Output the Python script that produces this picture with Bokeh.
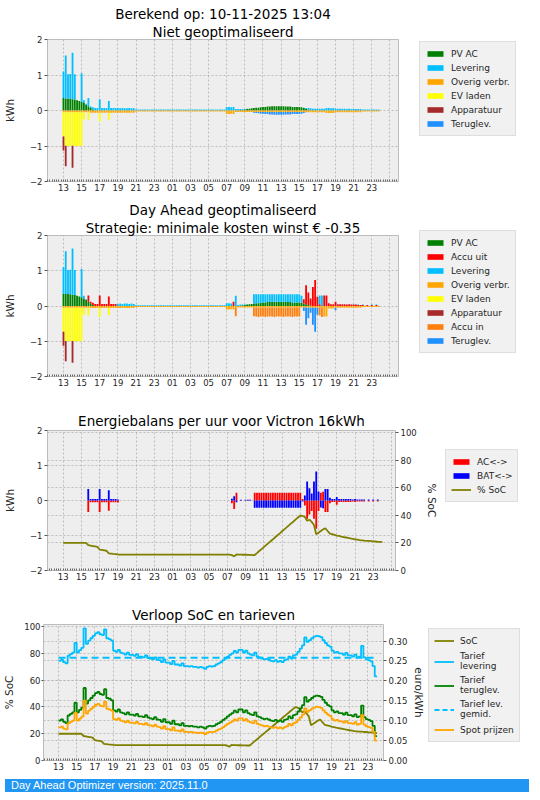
import numpy as np
from bokeh.plotting import figure
from bokeh.models import (ColumnDataSource, Range1d, LinearAxis, FixedTicker, Legend, LegendItem,
                          Title, Grid, Div, PrintfTickFormatter, Spacer)
from bokeh.layouts import column, row
from bokeh.embed import file_html
from bokeh.resources import INLINE

# ---------------- data (quarter-hour slots, 13:00 today .. 23:45 tomorrow) ----------------
N_Q = 140
quarter_x = 13 + 0.25 * np.arange(N_Q)
soc_x = 13 + 0.25 * np.arange(N_Q + 1)

tick_hours = list(range(13, 50, 2))
tick_labels = ["13", "15", "17", "19", "21", "23", "01", "03", "05", "07", "09", "11",
               "13", "15", "17", "19", "21", "23", ""]

pv_ac = {0: 0.35, 1: 0.34, 2: 0.34, 3: 0.33, 4: 0.32, 5: 0.31, 6: 0.29, 7: 0.27, 8: 0.25, 9: 0.21,
         10: 0.17, 11: 0.12, 12: 0.07, 13: 0.03,
         78: 0.01, 79: 0.02, 80: 0.03, 81: 0.04, 82: 0.05, 83: 0.06, 84: 0.07, 85: 0.08, 86: 0.08,
         87: 0.09, 88: 0.10, 89: 0.10, 90: 0.11, 91: 0.11, 92: 0.12, 93: 0.12, 94: 0.12, 95: 0.12,
         96: 0.12, 97: 0.12, 98: 0.11, 99: 0.11, 100: 0.11, 101: 0.10, 102: 0.10, 103: 0.10,
         104: 0.10, 105: 0.09, 106: 0.07, 107: 0.05, 108: 0.03, 109: 0.01}

levering_p1 = [
    0.75, 1.21, 0.68, 0.70,  1.31, 0.71, 0.00, 0.00,  0.80, 0.08, 0.02, 0.23,
    0.04, 0.06, 0.07, 0.07,  0.32, 0.07, 0.07, 0.07,  0.27, 0.07, 0.07, 0.07,
    0.07, 0.06, 0.07, 0.06,  0.06, 0.07, 0.06, 0.06,  0.03, 0.03, 0.03, 0.03,
    0.03, 0.03, 0.03, 0.03,  0.03, 0.03, 0.03, 0.03,  0.03, 0.03, 0.03, 0.03,
    0.03, 0.03, 0.03, 0.03,  0.03, 0.03, 0.03, 0.03,  0.03, 0.03, 0.03, 0.03,
    0.03, 0.03, 0.03, 0.03,  0.03, 0.03, 0.03, 0.03,  0.03, 0.03, 0.03, 0.03,
    0.10, 0.10, 0.09, 0.10,  0.04, 0.04, 0.03, 0.02,  0.01, 0.01, 0.00, 0.00,
    0.00, 0.00, 0.00, 0.00,  0.00, 0.00, 0.00, 0.00,  0.00, 0.00, 0.00, 0.00,
    0.00, 0.00, 0.00, 0.00,  0.00, 0.00, 0.00, 0.00,  0.00, 0.00, 0.01, 0.02,
    0.04, 0.05, 0.05, 0.05,  0.05, 0.05, 0.05, 0.05,  0.07, 0.07, 0.06, 0.07,
    0.05, 0.05, 0.05, 0.05,  0.05, 0.04, 0.05, 0.04,  0.04, 0.04, 0.04, 0.04,
    0.03, 0.03, 0.03, 0.03,  0.03, 0.03, 0.03, 0.03]

overig_p1 = [
    -0.05, -0.05, -0.05, -0.05,  -0.05, -0.05, -0.05, -0.05,  -0.05, -0.05, -0.05, -0.05,
    -0.06, -0.06, -0.06, -0.06,  -0.06, -0.06, -0.06, -0.06,  -0.06, -0.06, -0.06, -0.06,
    -0.06, -0.06, -0.06, -0.06,  -0.06, -0.06, -0.06, -0.06,  -0.03, -0.03, -0.03, -0.03,
    -0.03, -0.03, -0.03, -0.03,  -0.03, -0.03, -0.03, -0.03,  -0.03, -0.03, -0.03, -0.03,
    -0.03, -0.03, -0.03, -0.03,  -0.03, -0.03, -0.03, -0.03,  -0.03, -0.03, -0.03, -0.03,
    -0.03, -0.03, -0.03, -0.03,  -0.03, -0.03, -0.03, -0.03,  -0.03, -0.03, -0.03, -0.03,
    -0.10, -0.10, -0.09, -0.10,  -0.04, -0.04, -0.04, -0.04,  -0.04, -0.04, -0.04, -0.04,
    -0.04, -0.04, -0.04, -0.04,  -0.04, -0.04, -0.04, -0.04,  -0.04, -0.04, -0.04, -0.04,
    -0.04, -0.04, -0.04, -0.04,  -0.04, -0.04, -0.04, -0.04,  -0.04, -0.04, -0.04, -0.04,
    -0.05, -0.05, -0.05, -0.05,  -0.05, -0.05, -0.05, -0.05,  -0.07, -0.07, -0.07, -0.07,
    -0.05, -0.05, -0.05, -0.05,  -0.05, -0.05, -0.05, -0.05,  -0.05, -0.05, -0.05, -0.05,
    -0.03, -0.03, -0.03, -0.03,  -0.03, -0.03, -0.03, -0.03]

ev_laden = {0: -0.68, 1: -0.94, 2: -0.95, 3: -0.95, 4: -0.94, 5: -0.95, 6: -0.95, 7: -0.95,
            8: -0.95, 9: -0.20, 11: -0.22, 16: -0.25, 20: -0.20}
apparatuur = {0: -0.40, 1: -0.58, 4: -0.62}
teruglev_p1 = {84: -0.02, 85: -0.03, 86: -0.04, 87: -0.05, 88: -0.05, 89: -0.06, 90: -0.06,
               91: -0.07, 92: -0.07, 93: -0.08, 94: -0.08, 95: -0.08, 96: -0.08, 97: -0.08,
               98: -0.07, 99: -0.07, 100: -0.07, 101: -0.06, 102: -0.06, 103: -0.06, 104: -0.06,
               105: -0.05, 106: -0.03, 107: -0.01}

levering_p2 = [
    0.75, 1.21, 0.68, 0.70,  1.31, 0.71, 0.00, 0.00,  0.80, 0.08, 0.02, 0.00,
    0.00, 0.00, 0.00, 0.00,  0.00, 0.00, 0.00, 0.00,  0.00, 0.00, 0.00, 0.00,
    0.06, 0.07, 0.06, 0.07,  0.07, 0.06, 0.07, 0.06,  0.02, 0.02, 0.02, 0.02,
    0.02, 0.02, 0.02, 0.02,  0.02, 0.02, 0.02, 0.02,  0.02, 0.02, 0.02, 0.02,
    0.02, 0.02, 0.02, 0.02,  0.02, 0.02, 0.02, 0.02,  0.02, 0.02, 0.02, 0.02,
    0.02, 0.02, 0.02, 0.02,  0.02, 0.02, 0.02, 0.02,  0.02, 0.02, 0.02, 0.02,
    0.08, 0.08, 0.07, 0.00,  0.29, 0.03, 0.03, 0.02,  0.01, 0.01, 0.00, 0.00,
    0.26, 0.25, 0.25, 0.24,  0.23, 0.23, 0.22, 0.22,  0.21, 0.21, 0.21, 0.21,
    0.21, 0.21, 0.22, 0.22,  0.22, 0.23, 0.23, 0.23,  0.23, 0.20, 0.00, 0.00,
    0.00, 0.00, 0.00, 0.00,  0.00, 0.25, 0.30, 0.00,  0.00, 0.00, 0.01, 0.00,
    0.00, 0.01, 0.00, 0.01,  0.00, 0.01, 0.00, 0.01,  0.01, 0.00, 0.01, 0.00,
    0.01, 0.01, 0.00, 0.01,  0.01, 0.00, 0.01, 0.01]

overig_p2 = [
    -0.05, -0.05, -0.05, -0.05,  -0.05, -0.05, -0.05, -0.05,  -0.05, -0.05, -0.05, -0.05,
    -0.06, -0.06, -0.06, -0.06,  -0.06, -0.06, -0.06, -0.06,  -0.06, -0.06, -0.06, -0.06,
    -0.06, -0.06, -0.06, -0.06,  -0.06, -0.06, -0.06, -0.06,  -0.03, -0.03, -0.03, -0.03,
    -0.03, -0.03, -0.03, -0.03,  -0.03, -0.03, -0.03, -0.03,  -0.03, -0.03, -0.03, -0.03,
    -0.03, -0.03, -0.03, -0.03,  -0.03, -0.03, -0.03, -0.03,  -0.03, -0.03, -0.03, -0.03,
    -0.03, -0.03, -0.03, -0.03,  -0.03, -0.03, -0.03, -0.03,  -0.03, -0.03, -0.03, -0.03,
    -0.10, -0.10, -0.09, -0.10,  -0.04, -0.04, -0.04, -0.04,  -0.04, -0.04, -0.04, -0.04,
    -0.04, -0.04, -0.04, -0.04,  -0.04, -0.04, -0.04, -0.04,  -0.04, -0.04, -0.04, -0.04,
    -0.04, -0.04, -0.04, -0.04,  -0.04, -0.04, -0.04, -0.04,  -0.04, -0.04, -0.04, -0.04,
    -0.05, -0.05, -0.05, -0.05,  -0.05, -0.05, -0.05, -0.30,  -0.30, -0.07, -0.07, -0.07,
    -0.05, -0.05, -0.05, -0.05,  -0.05, -0.05, -0.05, -0.05,  -0.05, -0.05, -0.05, -0.05,
    -0.03, -0.03, -0.03, -0.03,  -0.03, -0.03, -0.03, -0.03]

accu_uit_p2 = {11: 0.18, 12: 0.05, 13: 0.06, 14: 0.06, 15: 0.06, 16: 0.30, 17: 0.06, 18: 0.06,
               19: 0.06, 20: 0.27, 21: 0.06, 22: 0.06, 23: 0.06, 75: 0.12,
               106: 0.12, 107: 0.54, 108: 0.35, 109: 0.20, 110: 0.54, 111: 0.74, 112: 0.26,
               113: 0.05, 115: 0.30, 116: 0.30, 117: 0.08, 118: 0.05, 119: 0.05, 120: 0.12,
               121: 0.05, 122: 0.05, 123: 0.05, 124: 0.05, 125: 0.04, 126: 0.05, 127: 0.04,
               128: 0.04, 129: 0.04, 130: 0.03, 131: 0.03, 132: 0.03, 134: 0.03, 136: 0.03,
               138: 0.03}
accu_in_p2 = {76: -0.25, 84: -0.25, 85: -0.26, 86: -0.27, 87: -0.26, 88: -0.26, 89: -0.27,
              90: -0.26, 91: -0.26, 92: -0.26, 93: -0.27, 94: -0.26, 95: -0.26, 96: -0.26,
              97: -0.27, 98: -0.26, 99: -0.26, 100: -0.26, 101: -0.27, 102: -0.26, 103: -0.26,
              104: -0.26, 113: -0.22, 114: -0.26}
teruglev_p2 = {106: -0.10, 107: -0.49, 108: -0.30, 109: -0.14, 110: -0.48, 111: -0.68,
               112: -0.20, 120: -0.07}

ac_balans = {11: -0.33, 12: -0.05, 13: -0.05, 14: -0.05, 15: -0.05, 16: -0.33, 17: -0.05,
             18: -0.05, 19: -0.05, 20: -0.29, 21: -0.05, 22: -0.05, 23: -0.05, 24: -0.06,
             74: -0.08, 75: -0.24, 76: 0.22, 78: -0.01, 80: -0.01, 81: -0.01, 82: -0.01,
             84: 0.22, 85: 0.22, 86: 0.22, 87: 0.22, 88: 0.22, 89: 0.22, 90: 0.22, 91: 0.22,
             92: 0.22, 93: 0.22, 94: 0.22, 95: 0.22, 96: 0.22, 97: 0.22, 98: 0.22, 99: 0.22,
             100: 0.22, 101: 0.22, 102: 0.22, 103: 0.22, 104: 0.22, 105: 0.04,
             106: -0.14, 107: -0.52, 108: -0.40, 109: -0.30, 110: -0.52, 111: -0.81,
             112: -0.30, 113: 0.22, 114: 0.25, 115: -0.33, 116: -0.33, 117: -0.08,
             118: -0.04, 119: -0.04, 120: -0.12, 121: -0.04, 122: -0.04, 123: -0.04,
             124: -0.04, 125: -0.04, 126: -0.04, 127: -0.03, 128: -0.04, 129: -0.03,
             130: -0.03, 131: -0.03, 132: -0.03, 134: -0.03, 136: -0.03, 138: -0.03}
bat_balans = {11: 0.33, 12: 0.04, 13: 0.04, 14: 0.04, 15: 0.04, 16: 0.33, 17: 0.04, 18: 0.04,
              19: 0.04, 20: 0.29, 21: 0.04, 22: 0.04, 23: 0.04, 24: 0.03,
              74: 0.05, 75: 0.12, 76: -0.05, 78: 0.02, 80: 0.02, 81: 0.02, 82: 0.02,
              84: -0.21, 85: -0.21, 86: -0.21, 87: -0.21, 88: -0.21, 89: -0.21, 90: -0.21,
              91: -0.21, 92: -0.21, 93: -0.21, 94: -0.21, 95: -0.21, 96: -0.21, 97: -0.21,
              98: -0.21, 99: -0.21, 100: -0.21, 101: -0.21, 102: -0.21, 103: -0.21,
              104: -0.21, 105: -0.03,
              106: 0.14, 107: 0.54, 108: 0.35, 109: 0.20, 110: 0.54, 111: 0.83, 112: 0.26,
              113: -0.20, 114: -0.22, 115: 0.33, 116: 0.33, 117: 0.08, 118: 0.04, 119: 0.04,
              120: 0.10, 121: 0.04, 122: 0.04, 123: 0.04, 124: 0.04, 125: 0.04, 126: 0.04,
              127: 0.03, 128: 0.04, 129: 0.03, 130: 0.03, 131: 0.03, 132: 0.03, 134: 0.03,
              136: 0.03, 138: 0.03}

soc = [
    20.0, 20.0, 20.0, 20.0,  20.0, 20.0, 20.0, 20.0,  20.0, 20.0, 20.0, 18.3,
    18.0, 17.7, 17.4, 17.1,  15.2, 14.9, 14.6, 14.3,  12.4, 12.2, 12.0, 11.9,
    11.6, 11.5, 11.5, 11.5,  11.5, 11.5, 11.5, 11.5,  11.5, 11.5, 11.5, 11.5,
    11.5, 11.5, 11.5, 11.5,  11.5, 11.5, 11.5, 11.5,  11.5, 11.5, 11.5, 11.5,
    11.5, 11.5, 11.5, 11.5,  11.5, 11.5, 11.5, 11.5,  11.5, 11.5, 11.5, 11.5,
    11.5, 11.5, 11.5, 11.5,  11.5, 11.5, 11.5, 11.5,  11.5, 11.5, 11.5, 11.5,
    11.5, 11.5, 11.2, 10.2,  11.6, 11.5, 11.5, 11.4,  11.4, 11.3, 11.3, 11.2,
    11.2, 12.6, 14.1, 15.5,  16.9, 18.4, 19.8, 21.2,  22.6, 24.1, 25.5, 26.9,
    28.4, 29.8, 31.2, 32.7,  34.1, 35.5, 37.0, 38.4,  39.8, 39.5, 38.8, 36.0,
    36.8, 35.2, 33.0, 26.3,  27.4, 28.6, 29.8, 30.6,  28.6, 26.7, 26.3, 25.8,
    25.3, 25.0, 24.5, 24.2,  23.9, 23.6, 23.2, 22.9,  22.6, 22.3, 22.0, 21.8,
    21.6, 21.5, 21.4, 21.3,  21.1, 21.0, 20.8, 20.7,  20.5]

spot_prijzen = [
    0.083, 0.085, 0.080, 0.078,  0.093, 0.097, 0.100, 0.120,  0.100, 0.105, 0.110, 0.150,
    0.118, 0.125, 0.130, 0.135,  0.140, 0.142, 0.138, 0.136,  0.148, 0.130, 0.128, 0.125,
    0.104, 0.102, 0.106, 0.100,  0.098, 0.096, 0.100, 0.095,  0.095, 0.093, 0.097, 0.092,
    0.092, 0.090, 0.094, 0.089,  0.088, 0.086, 0.090, 0.085,  0.084, 0.080, 0.086, 0.079,
    0.079, 0.076, 0.083, 0.075,  0.075, 0.073, 0.078, 0.072,  0.072, 0.071, 0.072, 0.070,
    0.070, 0.069, 0.070, 0.069,  0.066, 0.070, 0.072, 0.071,  0.072, 0.075, 0.078, 0.080,
    0.084, 0.088, 0.092, 0.095,  0.098, 0.103, 0.100, 0.106,  0.106, 0.100, 0.104, 0.098,
    0.096, 0.094, 0.100, 0.092,  0.090, 0.088, 0.086, 0.087,  0.085, 0.083, 0.082, 0.084,
    0.081, 0.083, 0.080, 0.084,  0.086, 0.092, 0.088, 0.094,  0.096, 0.102, 0.108, 0.115,
    0.131, 0.122, 0.126, 0.130,  0.133, 0.135, 0.134, 0.132,  0.126, 0.120, 0.115, 0.112,
    0.104, 0.100, 0.102, 0.098,  0.098, 0.095, 0.099, 0.094,  0.094, 0.092, 0.096, 0.090,
    0.092, 0.114, 0.090, 0.086,  0.084, 0.082, 0.072, 0.050]

tarief_teruglev = [
    0.100, 0.103, 0.097, 0.094,  0.113, 0.117, 0.121, 0.145,  0.121, 0.127, 0.133, 0.182,
    0.143, 0.151, 0.157, 0.163,  0.169, 0.172, 0.167, 0.165,  0.179, 0.157, 0.155, 0.151,
    0.126, 0.123, 0.128, 0.121,  0.119, 0.116, 0.121, 0.115,  0.115, 0.113, 0.117, 0.111,
    0.111, 0.109, 0.114, 0.108,  0.106, 0.104, 0.109, 0.103,  0.102, 0.097, 0.104, 0.096,
    0.096, 0.092, 0.100, 0.091,  0.091, 0.088, 0.094, 0.087,  0.087, 0.086, 0.087, 0.085,
    0.085, 0.083, 0.085, 0.083,  0.080, 0.085, 0.087, 0.086,  0.087, 0.091, 0.094, 0.097,
    0.102, 0.106, 0.111, 0.115,  0.119, 0.125, 0.121, 0.128,  0.128, 0.121, 0.126, 0.119,
    0.116, 0.114, 0.121, 0.111,  0.109, 0.106, 0.104, 0.105,  0.103, 0.100, 0.099, 0.102,
    0.098, 0.100, 0.097, 0.102,  0.104, 0.111, 0.106, 0.114,  0.116, 0.123, 0.131, 0.139,
    0.159, 0.148, 0.152, 0.157,  0.161, 0.163, 0.162, 0.160,  0.152, 0.145, 0.139, 0.136,
    0.126, 0.121, 0.123, 0.119,  0.119, 0.115, 0.120, 0.114,  0.114, 0.111, 0.116, 0.109,
    0.111, 0.138, 0.109, 0.104,  0.102, 0.099, 0.087, 0.061]

tarief_levering = [
    0.250, 0.253, 0.247, 0.244,  0.263, 0.267, 0.271, 0.295,  0.271, 0.277, 0.283, 0.332,
    0.293, 0.301, 0.307, 0.313,  0.319, 0.322, 0.317, 0.315,  0.329, 0.307, 0.305, 0.301,
    0.276, 0.273, 0.278, 0.271,  0.269, 0.266, 0.271, 0.265,  0.265, 0.263, 0.267, 0.261,
    0.261, 0.259, 0.264, 0.258,  0.256, 0.254, 0.259, 0.253,  0.252, 0.247, 0.254, 0.246,
    0.246, 0.242, 0.250, 0.241,  0.241, 0.238, 0.244, 0.237,  0.237, 0.236, 0.237, 0.235,
    0.235, 0.233, 0.235, 0.233,  0.230, 0.235, 0.237, 0.236,  0.237, 0.241, 0.244, 0.247,
    0.252, 0.256, 0.261, 0.265,  0.269, 0.275, 0.271, 0.278,  0.278, 0.271, 0.276, 0.269,
    0.266, 0.264, 0.271, 0.261,  0.259, 0.256, 0.254, 0.255,  0.253, 0.250, 0.249, 0.252,
    0.248, 0.250, 0.247, 0.252,  0.254, 0.261, 0.256, 0.264,  0.266, 0.273, 0.281, 0.289,
    0.309, 0.298, 0.302, 0.307,  0.311, 0.313, 0.312, 0.310,  0.302, 0.295, 0.289, 0.286,
    0.276, 0.271, 0.273, 0.269,  0.269, 0.265, 0.270, 0.264,  0.264, 0.261, 0.266, 0.259,
    0.261, 0.288, 0.259, 0.254,  0.252, 0.249, 0.237, 0.211]

tarief_gemid = 0.258
gemid_span = [13.0, 48.0]

# ---------------- helpers ----------------
FONT = "DejaVu Sans"
BG = "#eeeeee"
TXT = "#262626"
GRIDC = "#b0b0b0"
C_PV, C_UIT, C_LEV, C_OVR = "#008000", "#ff0000", "#00bfff", "#ffa500"
C_EV, C_APP, C_IN, C_TER = "#ffff00", "#a52a2a", "#ff7f0e", "#1e90ff"
C_SOC = "#808000"
BAR_W = 0.2


def dense(d):
    arr = np.zeros(N_Q)
    for k, v in d.items():
        arr[k] = v
    return arr


def style_axis(ax, label=None, standoff=7, tick_out=3):
    ax.axis_line_color = None
    ax.major_tick_line_color = "#555555"
    ax.major_tick_out = tick_out
    ax.major_tick_in = 0
    ax.minor_tick_line_color = None
    ax.major_label_text_font = FONT
    ax.major_label_text_font_size = "8.5px"
    ax.major_label_text_color = TXT
    ax.major_label_standoff = 2
    if label:
        ax.axis_label = label
        ax.axis_label_text_font = FONT
        ax.axis_label_text_font_size = "10.5px"
        ax.axis_label_text_font_style = "normal"
        ax.axis_label_text_color = TXT
        ax.axis_label_standoff = standoff


def style_grid(g):
    g.grid_line_color = GRIDC
    g.grid_line_dash = "2 2"
    g.grid_line_width = 0.8


def make_fig(frame_w, frame_h, left, top, bottom, xr, yr, total_w=524):
    p = figure(frame_width=frame_w, frame_height=frame_h, min_border_left=left,
               min_border_right=total_w - left - frame_w, min_border_top=top,
               min_border_bottom=bottom, x_range=Range1d(*xr), y_range=Range1d(*yr),
               toolbar_location=None, tools="", output_backend="svg", title=None,
               background_fill_color=BG, border_fill_color="white")
    p.outline_line_color = "#bcbcbc"
    xt = FixedTicker(ticks=tick_hours, minor_ticks=list(np.arange(11.25, 50.01, 0.25)))
    p.xaxis.ticker = xt
    p.xaxis.major_label_overrides = {h: lab for h, lab in zip(tick_hours, tick_labels)}
    style_axis(p.xaxis[0], tick_out=0)
    p.xaxis.minor_tick_line_color = "#666666"
    p.xaxis.minor_tick_in = 2
    p.xaxis.minor_tick_out = 0
    p.xgrid.ticker = xt
    style_grid(p.xgrid[0])
    style_grid(p.ygrid[0])
    return p


def add_titles(p, lines, standoff=0):
    for i, t in enumerate(reversed(lines)):
        p.add_layout(Title(text=t, align="center", text_font=FONT, text_font_size="13.5px",
                           text_font_style="normal", text_color="black",
                           standoff=standoff if i == 0 else 0), "above")


def make_legend(items, loc, margin=0, spacing=1):
    return Legend(items=items, location=loc, label_text_font=FONT, label_text_font_size="9px",
                  label_text_color=TXT, label_height=13, glyph_height=7, glyph_width=20,
                  spacing=spacing, padding=5, label_standoff=6, margin=margin,
                  background_fill_color="#f1f1f1", background_fill_alpha=1.0,
                  border_line_color="#cccccc", border_line_width=1)


def legend_figure(width, height):
    """Axis-less figure whose visible ranges hold no data: it only shows a legend."""
    lf = figure(width=width, height=height, x_range=Range1d(0, 1), y_range=Range1d(0, 1),
                toolbar_location=None, tools="", output_backend="svg", title=None,
                x_axis_location=None, y_axis_location=None, min_border=0,
                background_fill_color="white", border_fill_color="white")
    lf.outline_line_color = None
    lf.grid.visible = False
    return lf


def kwh_axes(p):
    p.yaxis.ticker = FixedTicker(ticks=[-2, -1, 0, 1, 2])
    p.yaxis.major_label_overrides = {-2: "\u22122", -1: "\u22121"}
    style_axis(p.yaxis[0], label="kWh", standoff=11)
    p.ygrid.ticker = FixedTicker(ticks=[-2, -1, 0, 1, 2])


# ---------------- panel 1: niet geoptimaliseerd ----------------
p1 = make_fig(351, 142, 38, 39, 18, (11.24, 49.94), (-2, 2))
add_titles(p1, ["Berekend op: 10-11-2025 13:04", "Niet geoptimaliseerd"])
kwh_axes(p1)
src1 = ColumnDataSource(dict(x=quarter_x, pv=dense(pv_ac), lev=np.array(levering_p1),
                             ovr=np.array(overig_p1), ev=dense(ev_laden), app=dense(apparatuur),
                             ter=dense(teruglev_p1)))
r1p = p1.vbar_stack(["pv", "lev"], x="x", width=BAR_W, fill_color=[C_PV, C_LEV],
                    line_color=None, source=src1)
r1n = p1.vbar_stack(["ovr", "ev", "app", "ter"], x="x", width=BAR_W,
                    fill_color=[C_OVR, C_EV, C_APP, C_TER], line_color=None, source=src1)
p1.add_layout(make_legend([LegendItem(label="PV AC", renderers=[r1p[0]]),
                           LegendItem(label="Levering", renderers=[r1p[1]]),
                           LegendItem(label="Overig verbr.", renderers=[r1n[0]]),
                           LegendItem(label="EV laden", renderers=[r1n[1]]),
                           LegendItem(label="Apparatuur", renderers=[r1n[2]]),
                           LegendItem(label="Teruglev.", renderers=[r1n[3]])],
                          (21, 45), margin=16), "right")

# ---------------- panel 2: day ahead geoptimaliseerd ----------------
p2 = make_fig(351, 141, 38, 33, 21, (11.24, 49.94), (-2, 2))
add_titles(p2, ["Day Ahead geoptimaliseerd", "Strategie: minimale kosten winst \u20ac -0.35"])
kwh_axes(p2)
src2 = ColumnDataSource(dict(x=quarter_x, pv=dense(pv_ac), uit=dense(accu_uit_p2),
                             lev=np.array(levering_p2), ovr=np.array(overig_p2),
                             ev=dense(ev_laden), app=dense(apparatuur), inn=dense(accu_in_p2),
                             ter=dense(teruglev_p2)))
r2p = p2.vbar_stack(["pv", "uit", "lev"], x="x", width=BAR_W,
                    fill_color=[C_PV, C_UIT, C_LEV], line_color=None, source=src2)
r2n = p2.vbar_stack(["ovr", "ev", "app", "inn", "ter"], x="x", width=BAR_W,
                    fill_color=[C_OVR, C_EV, C_APP, C_IN, C_TER], line_color=None, source=src2)
p2.add_layout(make_legend([LegendItem(label="PV AC", renderers=[r2p[0]]),
                           LegendItem(label="Accu uit", renderers=[r2p[1]]),
                           LegendItem(label="Levering", renderers=[r2p[2]]),
                           LegendItem(label="Overig verbr.", renderers=[r2n[0]]),
                           LegendItem(label="EV laden", renderers=[r2n[1]]),
                           LegendItem(label="Apparatuur", renderers=[r2n[2]]),
                           LegendItem(label="Accu in", renderers=[r2n[3]]),
                           LegendItem(label="Teruglev.", renderers=[r2n[4]])],
                          (21, 23), margin=16), "right")

# ---------------- panel 3: energiebalans ----------------
p3 = make_fig(348, 140, 38, 33, 22, (11.28, 49.44), (-2, 2), total_w=436)
add_titles(p3, ["Energiebalans per uur voor Victron 16kWh"], standoff=3)
kwh_axes(p3)
p3.extra_y_ranges = {"soc": Range1d(0, 101.4)}
ax3r = LinearAxis(y_range_name="soc", ticker=FixedTicker(ticks=[0, 20, 40, 60, 80, 100]))
style_axis(ax3r, label="% SoC", standoff=6)
p3.add_layout(ax3r, "right")
g3 = Grid(dimension=1, ticker=FixedTicker(ticks=[20, 40, 60, 80, 100]), y_range_name="soc")
style_grid(g3)
p3.add_layout(g3)
src3 = ColumnDataSource(dict(x=quarter_x, ac=dense(ac_balans), bat=dense(bat_balans)))
p3.vbar(x="x", top="ac", bottom=0, width=BAR_W, fill_color="red", line_color=None, source=src3)
p3.vbar(x="x", top="bat", bottom=0, width=BAR_W, fill_color="blue", line_color=None, source=src3)
p3.line(soc_x, soc, line_color=C_SOC, line_width=1.8, y_range_name="soc")

lf3 = legend_figure(88, 143)
l3a = lf3.vbar(x="x", top="ac", bottom=0, width=BAR_W, fill_color="red", line_color=None, source=src3)
l3b = lf3.vbar(x="x", top="bat", bottom=0, width=BAR_W, fill_color="blue", line_color=None, source=src3)
l3s = lf3.line(soc_x, soc, line_color=C_SOC, line_width=1.8)
lf3.add_layout(make_legend([LegendItem(label="AC<->", renderers=[l3a]),
                            LegendItem(label="BAT<->", renderers=[l3b]),
                            LegendItem(label="% SoC", renderers=[l3s])], "top_left"))
side3 = column(Spacer(width=88, height=52), lf3, spacing=0)

# ---------------- panel 4: SoC en tarieven ----------------
p4 = make_fig(340, 136, 37, 32, 14, (11.35, 48.71), (0, 101.6), total_w=419)
add_titles(p4, ["Verloop SoC en tarieven"], standoff=3)
p4.yaxis.ticker = FixedTicker(ticks=[0, 20, 40, 60, 80, 100])
p4.ygrid.ticker = FixedTicker(ticks=[0, 20, 40, 60, 80, 100])
style_axis(p4.yaxis[0], label="% SoC", standoff=6, tick_out=2)
p4.yaxis.major_label_standoff = 1
p4.extra_y_ranges = {"euro": Range1d(0, 0.3415)}
ax4r = LinearAxis(y_range_name="euro",
                  ticker=FixedTicker(ticks=[0, 0.05, 0.10, 0.15, 0.20, 0.25, 0.30]),
                  formatter=PrintfTickFormatter(format="%.2f"))
style_axis(ax4r, label="euro/kWh", standoff=3)
p4.add_layout(ax4r, "right")
g4 = Grid(dimension=1, ticker=FixedTicker(ticks=[0.05, 0.10, 0.15, 0.20, 0.25, 0.30]),
          y_range_name="euro")
style_grid(g4)
p4.add_layout(g4)

step_x = np.append(quarter_x, 48.0)
lev_y = np.append(tarief_levering, tarief_levering[-1])
ter_y = np.append(tarief_teruglev, tarief_teruglev[-1])
spot_y = np.append(spot_prijzen, spot_prijzen[-1])
p4.line(soc_x, soc, line_color=C_SOC, line_width=1.8)
p4.step(step_x, lev_y, mode="after", line_color=C_LEV, line_width=1.8, y_range_name="euro")
p4.step(step_x, ter_y, mode="after", line_color=C_PV, line_width=1.8, y_range_name="euro")
p4.line(gemid_span, [tarief_gemid, tarief_gemid], line_color=C_LEV, line_width=1.8,
        line_dash="7 4", y_range_name="euro")
p4.step(step_x, spot_y, mode="after", line_color=C_OVR, line_width=1.8, y_range_name="euro")

lf4 = legend_figure(105, 146)
lf4.extra_y_ranges = {"euro": Range1d(5, 6)}
m1 = lf4.line(soc_x, soc, line_color=C_SOC, line_width=1.8)
m2 = lf4.step(step_x, lev_y, mode="after", line_color=C_LEV, line_width=1.8, y_range_name="euro")
m3 = lf4.step(step_x, ter_y, mode="after", line_color=C_PV, line_width=1.8, y_range_name="euro")
m4 = lf4.line(gemid_span, [tarief_gemid, tarief_gemid], line_color=C_LEV, line_width=1.8,
              line_dash="5 3", y_range_name="euro")
m5 = lf4.step(step_x, spot_y, mode="after", line_color=C_OVR, line_width=1.8, y_range_name="euro")
lf4.add_layout(make_legend([LegendItem(label="SoC", renderers=[m1]),
                            LegendItem(label="Tarief\nlevering", renderers=[m2]),
                            LegendItem(label="Tarief\nteruglev.", renderers=[m3]),
                            LegendItem(label="Tarief lev.\ngemid.", renderers=[m4]),
                            LegendItem(label="Spot prijzen", renderers=[m5])], "top_left",
                           spacing=4))
side4 = column(Spacer(width=105, height=36), lf4, spacing=0)

footer = Div(text="Day Ahead Optimizer version: 2025.11.0", width=524, height=13,
             styles={"background-color": "#2196f3", "color": "white",
                     "font-family": "'Liberation Sans', Arial, sans-serif",
                     "font-size": "11px", "line-height": "13px", "padding-left": "6px",
                     "box-sizing": "border-box"})

layout = column(p1, p2, row(p3, side3, spacing=0), row(p4, side4, spacing=0), footer, spacing=0)
open("out.html", "w").write(file_html(layout, INLINE))
